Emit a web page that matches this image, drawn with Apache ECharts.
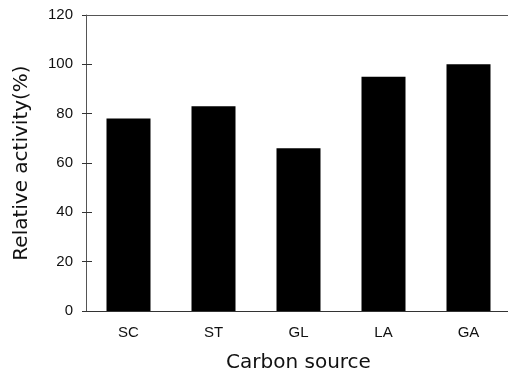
<!DOCTYPE html>
<html><head><meta charset="utf-8">
<script src="https://cdn.jsdelivr.net/npm/echarts@6/dist/echarts.min.js"></script>
<style>html,body{margin:0;padding:0;background:#fff}#c{width:508px;height:372px}</style>
</head><body><div id="c"></div>
<script>
const categories = ['SC', 'ST', 'GL', 'LA', 'GA'];
const activity = [78, 83, 66, 95, 100];
const yTicks = [0, 20, 40, 60, 80, 100, 120];

const chart = echarts.init(document.getElementById('c'), null, {renderer: 'canvas'});
const font = 'Liberation Sans, Arial, sans-serif';
const nameFont = 'DejaVu Sans, sans-serif';
chart.setOption({
  animation: false,
  backgroundColor: '#fff',
  grid: {left: 86, top: 15, width: 425, height: 296, containLabel: false, outerBoundsMode: 'none'},
  xAxis: {
    type: 'category', data: categories, position: 'bottom',
    axisLine: {lineStyle: {color: '#333', width: 1}},
    axisTick: {show: false},
    axisLabel: {color: '#111', fontSize: 15, fontFamily: font, margin: 14},
    name: 'Carbon source', nameLocation: 'middle', nameGap: 42,
    nameTextStyle: {color: '#111', fontSize: 20, fontFamily: nameFont}
  },
  yAxis: [{
    type: 'value', min: yTicks[0], max: yTicks[yTicks.length - 1], interval: 20,
    axisLine: {show: true, lineStyle: {color: '#555', width: 1}},
    axisTick: {show: true, length: 4, lineStyle: {color: '#333'}},
    splitLine: {show: false},
    axisLabel: {color: '#111', fontSize: 15, fontFamily: font, margin: 13},
    name: 'Relative activity(%)', nameLocation: 'middle', nameGap: 54,
    nameTextStyle: {color: '#111', fontSize: 20, fontFamily: nameFont}
  }, {
    type: 'value', min: yTicks[0], max: yTicks[yTicks.length - 1], interval: 20, position: 'left',
    axisLine: {show: false},
    axisTick: {show: true, inside: true, length: 6, lineStyle: {color: '#333'}},
    splitLine: {show: false}, axisLabel: {show: false}
  }],
  series: [{
    type: 'bar', data: activity, barWidth: 44,
    itemStyle: {color: '#000'},
    markLine: {
      silent: true, symbol: 'none', label: {show: false},
      lineStyle: {color: '#555', width: 1, type: 'solid'},
      data: [{yAxis: yTicks[yTicks.length - 1]}]
    }
  }]
});
</script></body></html>
